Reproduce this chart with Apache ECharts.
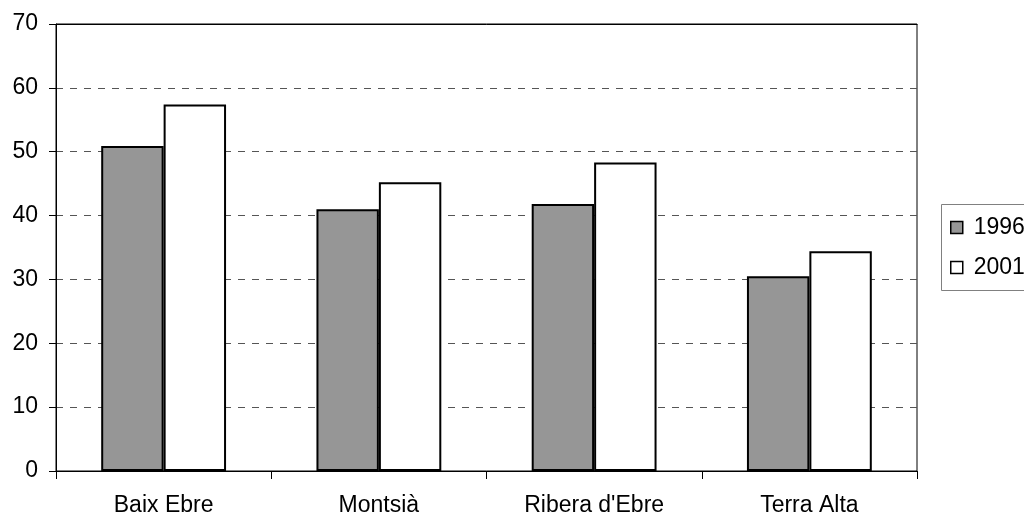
<!DOCTYPE html>
<html>
<head>
<meta charset="utf-8">
<script src="https://cdn.jsdelivr.net/npm/echarts@6/dist/echarts.min.js"></script>
<style>html,body{margin:0;padding:0;background:#fff;}#c{width:1024px;height:513px;}</style>
</head>
<body>
<div id="c"></div>
<script>
var categories = ['Baix Ebre', 'Montsià', "Ribera d'Ebre", 'Terra Alta'];
var seriesNames = ['1996', '2001'];
var values1996 = [50.9, 41.0, 41.8, 30.5];
var values2001 = [57.4, 45.2, 48.3, 34.4];
var yMin = 0, yMax = 70, yStep = 10;

var font = 'Liberation Sans, Arial, sans-serif';
var chart = echarts.init(document.getElementById('c'), null, {renderer: 'canvas'});
chart.setOption({
  animation: false,
  backgroundColor: '#fff',
  grid: {left: 56, right: 107, top: 24, bottom: 42, containLabel: false, outerBoundsMode: 'none',
         show: true, borderColor: '#000', borderWidth: 1, backgroundColor: 'transparent'},
  graphic: [{
    type: 'rect', left: 941, top: 204, z: 0,
    shape: {width: 120, height: 86},
    style: {fill: '#fff', stroke: '#808080', lineWidth: 1}
  }],
  legend: {
    orient: 'vertical', left: 941, top: 204,
    data: seriesNames,
    icon: 'rect', itemWidth: 12, itemHeight: 12, itemGap: 17,
    borderWidth: 0, padding: [12, 0, 12, 9],
    itemStyle: {borderWidth: 1.5, borderColor: '#000'},
    textStyle: {fontFamily: font, fontSize: 23, color: '#000', padding: [0, 0, 0, 6]}
  },
  xAxis: [{
    type: 'category', data: categories,
    axisLine: {lineStyle: {color: '#000', width: 1}},
    axisTick: {show: true, alignWithLabel: false, length: 8, lineStyle: {color: '#000'}},
    axisLabel: {fontFamily: font, fontSize: 23, color: '#000', margin: 23, interval: 0}
  }, {
    type: 'category', data: categories, position: 'top', z: 10,
    axisLine: {lineStyle: {color: '#000', width: 1}},
    axisTick: {show: false}, axisLabel: {show: false}
  }],
  yAxis: {
    type: 'value', min: yMin, max: yMax, interval: yStep,
    axisLine: {show: true, lineStyle: {color: '#000', width: 1}},
    axisTick: {show: true, length: 7, lineStyle: {color: '#000'}},
    axisLabel: {fontFamily: font, fontSize: 23, color: '#000', margin: 18},
    splitLine: {show: true, lineStyle: {color: '#555', type: [7, 7], width: 1}}
  },
  series: [{
    name: seriesNames[0], type: 'bar', data: values1996,
    barGap: '0%', barCategoryGap: '42%',
    itemStyle: {color: '#969696', borderColor: '#000', borderWidth: 2}
  }, {
    name: seriesNames[1], type: 'bar', data: values2001,
    barGap: '0%', barCategoryGap: '42%',
    itemStyle: {color: '#ffffff', borderColor: '#000', borderWidth: 2}
  }]
});
</script>
</body>
</html>
